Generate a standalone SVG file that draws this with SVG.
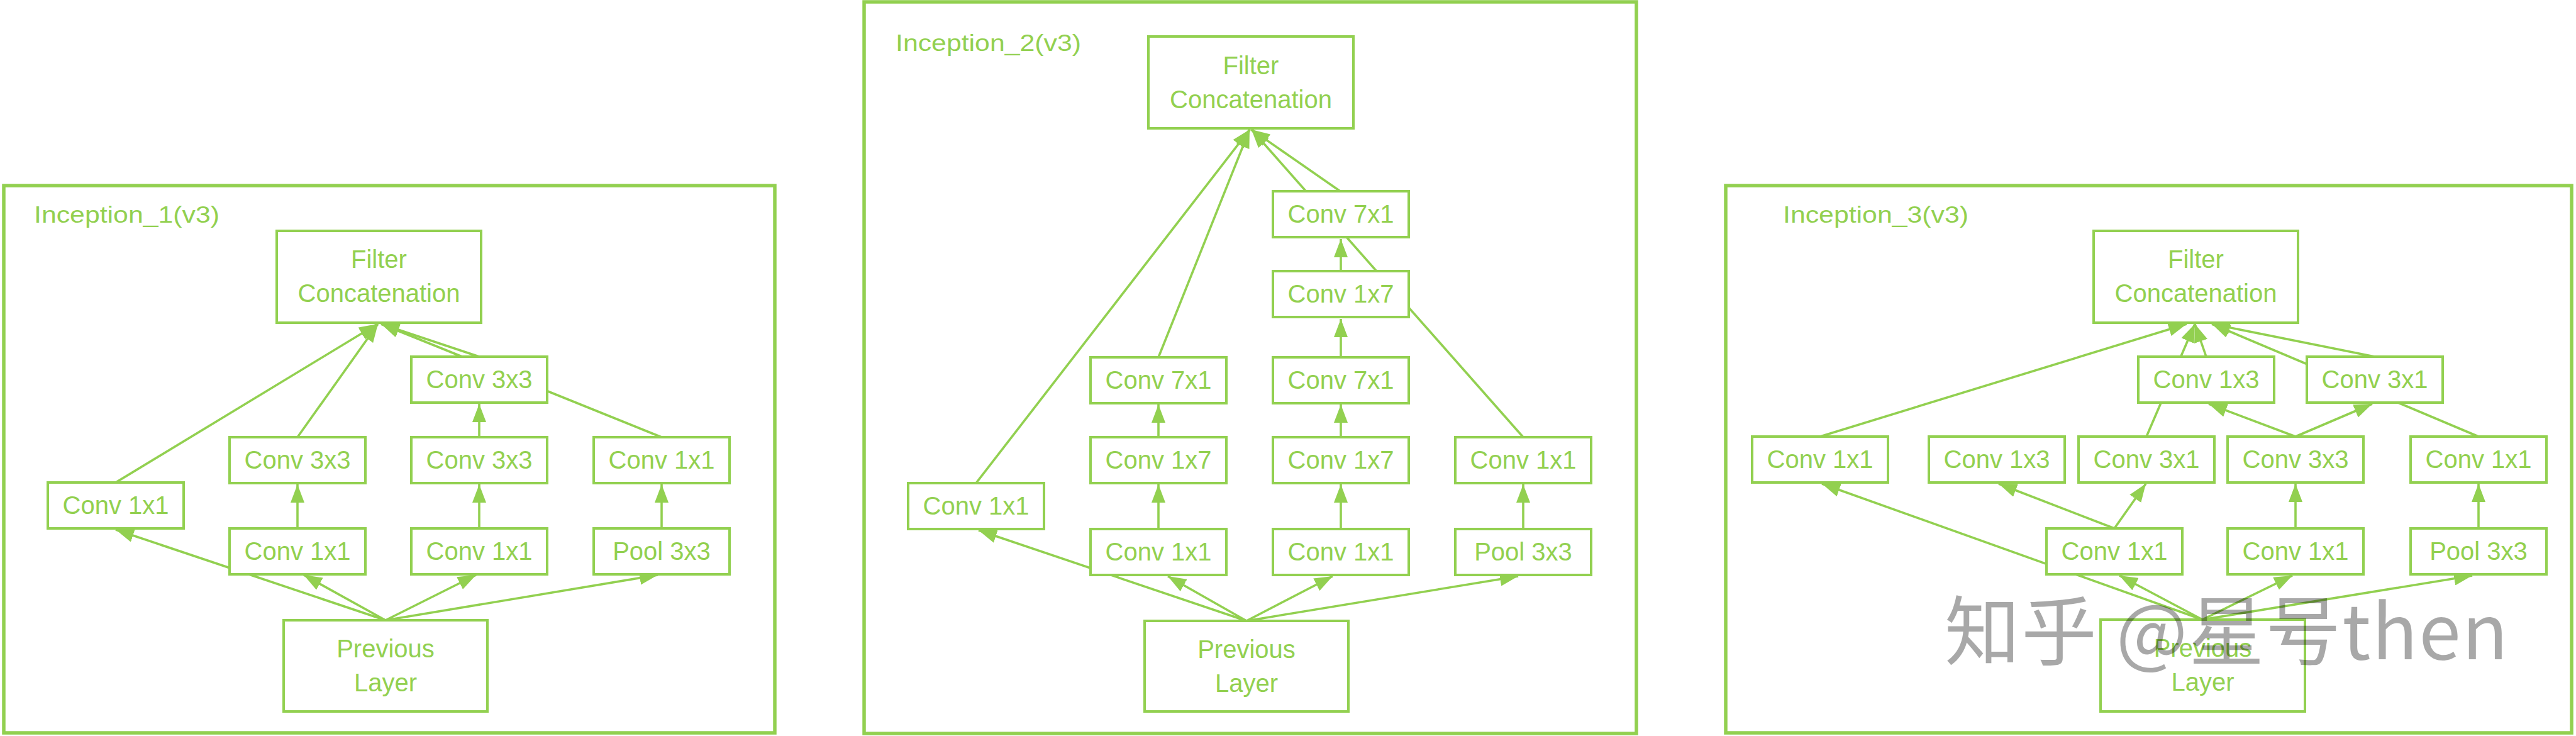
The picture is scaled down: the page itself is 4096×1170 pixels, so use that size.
<svg xmlns="http://www.w3.org/2000/svg" width="4096" height="1170" viewBox="0 0 4096 1170">
<style>
.frame{fill:none;stroke:#92D050;stroke-width:5.5}
.box{fill:#ffffff;stroke:#92D050;stroke-width:4}
.lbl{fill:#92D050;font-family:"Liberation Sans",Arial,sans-serif;font-size:40px;text-anchor:middle}
.title{fill:#92D050;font-family:"Liberation Sans",Arial,sans-serif;font-size:36px}
.edge{fill:none;stroke:#92D050;stroke-width:3.6}
.arr{marker-end:url(#ah)}
.wm{fill:#000000;fill-opacity:0.34;font-family:"Noto Sans CJK SC","Noto Sans",sans-serif;font-size:120px}
</style>
<defs>
<marker id="ah" viewBox="0 0 29 22" refX="29" refY="11" markerWidth="29" markerHeight="22" markerUnits="userSpaceOnUse" orient="auto">
<path d="M0,0 L29,11 L0,22 z" fill="#92D050"/>
</marker>
</defs>
<rect width="4096" height="1170" fill="#ffffff"/>
<g id="frames">
<rect class="frame" x="6" y="295" width="1226" height="870"/>
<rect class="frame" x="1374" y="3" width="1228" height="1163"/>
<rect class="frame" x="2744" y="295" width="1345" height="870"/>
<text class="title" x="54" y="354" textLength="295" lengthAdjust="spacingAndGlyphs">Inception_1(v3)</text>
<text class="title" x="1424" y="81" textLength="295" lengthAdjust="spacingAndGlyphs">Inception_2(v3)</text>
<text class="title" x="2835" y="354" textLength="295" lengthAdjust="spacingAndGlyphs">Inception_3(v3)</text>
</g>
<g id="connectors">
<path class="edge arr" d="M613,986 L184,842"/>
<path class="edge arr" d="M613,986 L483,914"/>
<path class="edge arr" d="M613,986 L757,914"/>
<path class="edge arr" d="M613,986 L1046,914"/>
<path class="edge arr" d="M473,840 L473,770"/>
<path class="edge arr" d="M762,840 L762,770"/>
<path class="edge arr" d="M762,695 L762,642"/>
<path class="edge arr" d="M1052,840 L1052,770"/>
<path class="edge arr" d="M184,767 L600,515"/>
<path class="edge arr" d="M473,695 L601,515"/>
<path class="edge arr" d="M762,567 L606,515"/>
<path class="edge arr" d="M1052,695 L606,515"/>

<path class="edge arr" d="M1982,987 L1556,843"/>
<path class="edge arr" d="M1982,987 L1857,916"/>
<path class="edge arr" d="M1982,987 L2119,916"/>
<path class="edge arr" d="M1982,987 L2414,916"/>
<path class="edge arr" d="M1842,841 L1842,770"/>
<path class="edge arr" d="M1842,695 L1842,643"/>
<path class="edge arr" d="M2132,841 L2132,770"/>
<path class="edge arr" d="M2132,695 L2132,643"/>
<path class="edge arr" d="M2132,568 L2132,507"/>
<path class="edge arr" d="M2132,431 L2132,380"/>
<path class="edge arr" d="M2422,841 L2422,770"/>
<path class="edge arr" d="M1552,768 L1987,206"/>
<path class="edge arr" d="M1842,568 L1987,206"/>
<path class="edge arr" d="M2422,695 L1990,206"/>
<path class="edge arr" d="M2131,304 L1990,206"/>

<path class="edge arr" d="M3502,985 L2897,769"/>
<path class="edge arr" d="M3502,985 L3370,915"/>
<path class="edge arr" d="M3502,985 L3645,915"/>
<path class="edge arr" d="M3502,985 L3931,915"/>
<path class="edge arr" d="M3362,840 L3178,769"/>
<path class="edge arr" d="M3362,840 L3412,769"/>
<path class="edge arr" d="M3650,840 L3650,769"/>
<path class="edge arr" d="M3941,840 L3941,769"/>
<path class="edge arr" d="M3650,694 L3512,642"/>
<path class="edge arr" d="M3650,694 L3772,642"/>
<path class="edge arr" d="M2894,694 L3477,515"/>
<path class="edge arr" d="M3413,694 L3490,515"/>
<path class="edge arr" d="M3508,567 L3490,515"/>
<path class="edge arr" d="M3941,694 L3517,515"/>
<path class="edge arr" d="M3776,567 L3517,515"/>
</g>

<g id="p1_filter"><rect class="box" x="440" y="367" width="325" height="146"/><text class="lbl" x="602.5" y="426">Filter</text><text class="lbl" x="602.5" y="480">Concatenation</text></g>
<g id="p1_conv3x3_top"><rect class="box" x="654" y="567" width="216" height="73"/><text class="lbl" x="762" y="617">Conv 3x3</text></g>
<g id="p1_conv1x1_a"><rect class="box" x="76" y="767" width="216" height="73"/><text class="lbl" x="184" y="817">Conv 1x1</text></g>
<g id="p1_conv3x3_b"><rect class="box" x="365" y="695" width="216" height="73"/><text class="lbl" x="473" y="745">Conv 3x3</text></g>
<g id="p1_conv3x3_c"><rect class="box" x="654" y="695" width="216" height="73"/><text class="lbl" x="762" y="745">Conv 3x3</text></g>
<g id="p1_conv1x1_d"><rect class="box" x="944" y="695" width="216" height="73"/><text class="lbl" x="1052" y="745">Conv 1x1</text></g>
<g id="p1_conv1x1_b"><rect class="box" x="365" y="840" width="216" height="73"/><text class="lbl" x="473" y="890">Conv 1x1</text></g>
<g id="p1_conv1x1_c"><rect class="box" x="654" y="840" width="216" height="73"/><text class="lbl" x="762" y="890">Conv 1x1</text></g>
<g id="p1_pool"><rect class="box" x="944" y="840" width="216" height="73"/><text class="lbl" x="1052" y="890">Pool 3x3</text></g>
<g id="p1_prev"><rect class="box" x="451" y="986" width="324" height="145"/><text class="lbl" x="613" y="1045">Previous</text><text class="lbl" x="613" y="1099">Layer</text></g>

<g id="p2_filter"><rect class="box" x="1826" y="58" width="326" height="146"/><text class="lbl" x="1989" y="118">Filter</text><text class="lbl" x="1989" y="172">Concatenation</text></g>
<g id="p2_conv7x1_top"><rect class="box" x="2024" y="304" width="216" height="73"/><text class="lbl" x="2132" y="354">Conv 7x1</text></g>
<g id="p2_conv1x7_up"><rect class="box" x="2024" y="431" width="216" height="73"/><text class="lbl" x="2132" y="481">Conv 1x7</text></g>
<g id="p2_conv7x1_b"><rect class="box" x="1734" y="568" width="216" height="73"/><text class="lbl" x="1842" y="618">Conv 7x1</text></g>
<g id="p2_conv7x1_c"><rect class="box" x="2024" y="568" width="216" height="73"/><text class="lbl" x="2132" y="618">Conv 7x1</text></g>
<g id="p2_conv1x7_b"><rect class="box" x="1734" y="695" width="216" height="73"/><text class="lbl" x="1842" y="745">Conv 1x7</text></g>
<g id="p2_conv1x7_c"><rect class="box" x="2024" y="695" width="216" height="73"/><text class="lbl" x="2132" y="745">Conv 1x7</text></g>
<g id="p2_conv1x1_d"><rect class="box" x="2314" y="695" width="216" height="73"/><text class="lbl" x="2422" y="745">Conv 1x1</text></g>
<g id="p2_conv1x1_a"><rect class="box" x="1444" y="768" width="216" height="73"/><text class="lbl" x="1552" y="818">Conv 1x1</text></g>
<g id="p2_conv1x1_b"><rect class="box" x="1734" y="841" width="216" height="73"/><text class="lbl" x="1842" y="891">Conv 1x1</text></g>
<g id="p2_conv1x1_c"><rect class="box" x="2024" y="841" width="216" height="73"/><text class="lbl" x="2132" y="891">Conv 1x1</text></g>
<g id="p2_pool"><rect class="box" x="2314" y="841" width="216" height="73"/><text class="lbl" x="2422" y="891">Pool 3x3</text></g>
<g id="p2_prev"><rect class="box" x="1820" y="987" width="324" height="144"/><text class="lbl" x="1982" y="1046">Previous</text><text class="lbl" x="1982" y="1100">Layer</text></g>

<g id="p3_filter"><rect class="box" x="3329" y="367" width="325" height="146"/><text class="lbl" x="3491.5" y="426">Filter</text><text class="lbl" x="3491.5" y="480">Concatenation</text></g>
<g id="p3_conv1x3_top"><rect class="box" x="3400" y="567" width="216" height="73"/><text class="lbl" x="3508" y="617">Conv 1x3</text></g>
<g id="p3_conv3x1_top"><rect class="box" x="3668" y="567" width="216" height="73"/><text class="lbl" x="3776" y="617">Conv 3x1</text></g>
<g id="p3_conv1x1_a"><rect class="box" x="2786" y="694" width="216" height="73"/><text class="lbl" x="2894" y="744">Conv 1x1</text></g>
<g id="p3_conv1x3_m"><rect class="box" x="3067" y="694" width="216" height="73"/><text class="lbl" x="3175" y="744">Conv 1x3</text></g>
<g id="p3_conv3x1_m"><rect class="box" x="3305" y="694" width="216" height="73"/><text class="lbl" x="3413" y="744">Conv 3x1</text></g>
<g id="p3_conv3x3_m"><rect class="box" x="3542" y="694" width="216" height="73"/><text class="lbl" x="3650" y="744">Conv 3x3</text></g>
<g id="p3_conv1x1_d"><rect class="box" x="3833" y="694" width="216" height="73"/><text class="lbl" x="3941" y="744">Conv 1x1</text></g>
<g id="p3_conv1x1_b"><rect class="box" x="3254" y="840" width="216" height="73"/><text class="lbl" x="3362" y="890">Conv 1x1</text></g>
<g id="p3_conv1x1_c"><rect class="box" x="3542" y="840" width="216" height="73"/><text class="lbl" x="3650" y="890">Conv 1x1</text></g>
<g id="p3_pool"><rect class="box" x="3833" y="840" width="216" height="73"/><text class="lbl" x="3941" y="890">Pool 3x3</text></g>
<g id="p3_prev"><rect class="box" x="3340" y="985" width="325" height="146"/><text class="lbl" x="3502.5" y="1044">Previous</text><text class="lbl" x="3502.5" y="1098">Layer</text></g>

<g id="watermark"><text class="wm" x="3092" y="1048" textLength="896" lengthAdjust="spacing">知乎 @星号then</text></g>
</svg>
